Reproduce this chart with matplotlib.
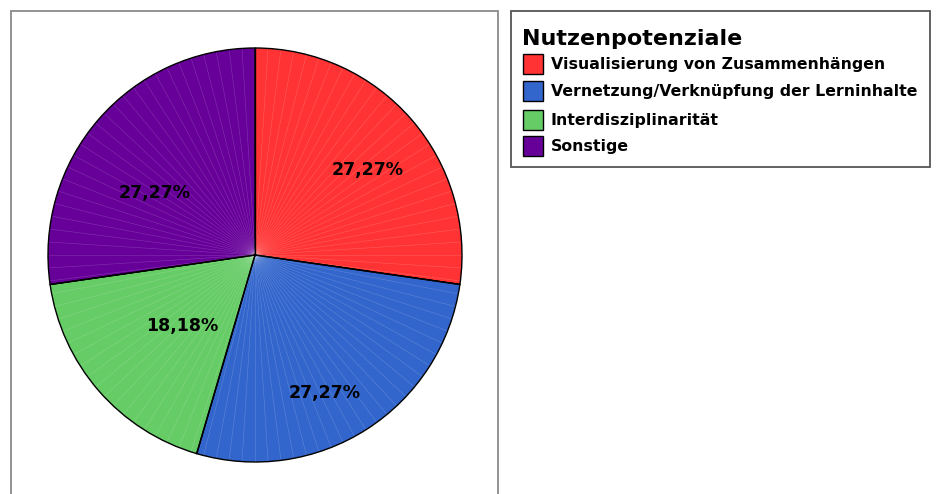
import numpy as np
import matplotlib
matplotlib.use("Agg")
import matplotlib.pyplot as plt
from matplotlib.patches import Rectangle

plt.rcParams['font.family'] = ['DejaVu Sans']

categories = ["Visualisierung von Zusammenhängen",
              "Vernetzung/Verknüpfung der Lerninhalte",
              "Interdisziplinarität",
              "Sonstige"]
values = [27.27, 27.27, 18.18, 27.27]
labels = ["27,27%", "27,27%", "18,18%", "27,27%"]
legend_title = "Nutzenpotenziale"
colors = ["#FF3333", "#3366CC", "#66CC66", "#660099"]

W, H = 937, 494
fig = plt.figure(figsize=(W / 100, H / 100), dpi=100)
ax = fig.add_axes([0, 0, 1, 1])


def ytop(y):
    return H - y


cx, cy, r = 255, ytop(255), 207
wedges, _ = ax.pie(values, colors=colors, startangle=90, counterclock=False,
                   center=(cx, cy), radius=r, frame=True,
                   wedgeprops=dict(edgecolor="black", linewidth=1.0))
ax.set_xlim(0, W)
ax.set_ylim(0, H)
ax.set_aspect('equal')
ax.axis('off')

# frames
ax.add_patch(Rectangle((11, -5), 487, ytop(11) + 5, fill=False,
                       edgecolor="#8a8a8a", lw=1.3, zorder=1))
ax.add_patch(Rectangle((511, ytop(167)), 419, 156, fill=False,
                       edgecolor="#555555", lw=1.3, zorder=1))

# faint radial lines typical of the original renderer
for ang in np.arange(90, 90 - 360, -3.6):
    a = np.deg2rad(ang)
    ax.plot([cx + r * 0.01 * np.cos(a), cx + r * 0.995 * np.cos(a)],
            [cy + r * 0.01 * np.sin(a), cy + r * 0.995 * np.sin(a)],
            color="white", lw=0.4, alpha=0.2, zorder=3)
total = sum(values)
ang = 90.0
for v in values:
    a = np.deg2rad(ang)
    ax.plot([cx, cx + r * np.cos(a)], [cy, cy + r * np.sin(a)], color="black", lw=1.0, zorder=4)
    ang -= v / total * 360

label_pos = [(368, 170), (325, 393), (182, 326), (155, 193)]
for (x, y), t in zip(label_pos, labels):
    ax.text(x, ytop(y), t, ha="center", va="center", fontsize=12.5,
            fontweight="bold", color="black", zorder=5)

# legend
ax.text(522, ytop(39), legend_title, ha="left", va="center", fontsize=16,
        fontweight="bold", color="black")
ys = [64, 91, 120, 146]
for y, c, cat in zip(ys, colors, categories):
    ax.add_patch(Rectangle((523, ytop(y) - 10), 20, 20, facecolor=c,
                           edgecolor="black", lw=1.0))
    ax.text(551, ytop(y), cat, ha="left", va="center", fontsize=11.3,
            fontweight="bold", color="black")

fig.savefig("out.png", dpi=100)
